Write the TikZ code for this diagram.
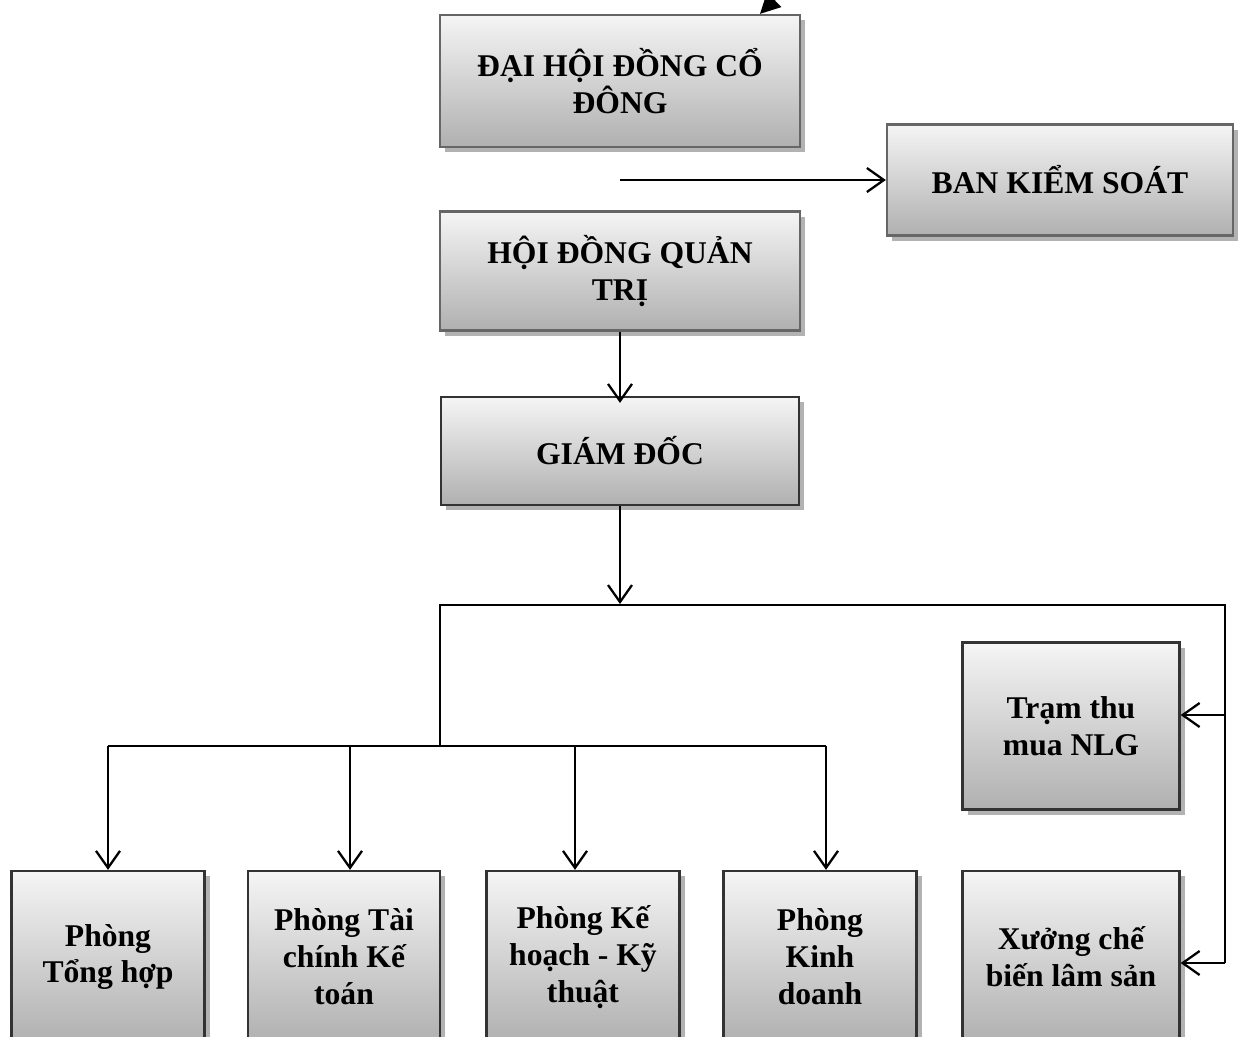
\documentclass[tikz,border=0pt]{standalone}
\usepackage{fontspec}
\setmainfont{Liberation Serif}
\usepackage{tikz}
\usetikzlibrary{positioning, arrows.meta, shadows}
\tikzset{orgbox/.style={draw=black!80, line width=1.3pt, top color=gray!8, bottom color=gray!62, drop shadow={shadow xshift=3pt, shadow yshift=-3pt, fill=gray!60, opacity=1}, align=center, inner sep=2pt, font=\fontsize{18}{21}\selectfont\bfseries}}
\tikzset{arr/.style={draw, line width=1.3pt, -{Straight Barb[length=3.4mm, width=4.8mm, line width=1.3pt]}}}
\tikzset{link/.style={draw, line width=1.3pt}}

\begin{document}
\begin{tikzpicture}[x=0.02cm, y=-0.02cm]
			\useasboundingbox (0,0) rectangle (1238,1036);
			% top level
			\node[orgbox, draw=black!60, minimum width=360*0.02cm, minimum height=132*0.02cm] (dhcd) at (620,81) {ĐẠI HỘI ĐỒNG CỔ\\ĐÔNG};
			\node[orgbox, draw=black!60, minimum width=346*0.02cm, minimum height=111*0.02cm] (bks) at (1060,180) {BAN KIỂM SOÁT};
			\node[orgbox, draw=black!60, minimum width=360*0.02cm, minimum height=119*0.02cm] (hdqt) at (620,271) {HỘI ĐỒNG QUẢN\\TRỊ};
			\node[orgbox, minimum width=358*0.02cm, minimum height=108*0.02cm] (gd) at (620,451) {GIÁM ĐỐC};
			% departments
			\node[orgbox, minimum width=193*0.02cm, minimum height=172*0.02cm] (pth) at (108,957) {Phòng\\Tổng hợp};
			\node[orgbox, minimum width=192*0.02cm, minimum height=172*0.02cm] (ptc) at (344,957) {Phòng Tài\\chính Kế\\toán};
			\node[orgbox, minimum width=193*0.02cm, minimum height=172*0.02cm] (pkh) at (583,957) {Phòng Kế\\hoạch - Kỹ\\thuật};
			\node[orgbox, minimum width=193*0.02cm, minimum height=172*0.02cm] (pkd) at (820,957) {Phòng\\Kinh\\doanh};
			\node[orgbox, minimum width=217*0.02cm, minimum height=167*0.02cm] (tram) at (1071,726) {Trạm thu\\mua NLG};
			\node[orgbox, minimum width=217*0.02cm, minimum height=172*0.02cm] (xuong) at (1071,957) {Xưởng chế\\biến lâm sản};
			% connector points
			\coordinate (topin) at (780,-6);
			\coordinate (bksin) at (620,180);
			\coordinate (gdout) at (620,604);
			\coordinate (lt) at (440,605);
			\coordinate (rt) at (1225,605);
			\coordinate (lb) at (440,746);
			\coordinate (bl) at (108,746);
			\coordinate (br) at (826,746);
			\coordinate (rtram) at (1225,715);
			\coordinate (rxuong) at (1225,963);
			\draw[line width=1.3pt, -{Triangle[length=4mm, width=4mm]}] (topin) -- ([xshift=140*0.02cm]dhcd.north);
			\draw[arr] (bksin) -- (bks.west);
			\draw[arr] (hdqt.south) -- ([yshift=-4pt]hdqt.south |- gd.north);
			\draw[arr] (gd.south) -- (gdout);
			\draw[link] (lb) -- (lt) -- (rt) -- (rxuong);
			\draw[link] (bl) -- (br);
			\foreach \p/\b in {108/pth, 350/ptc, 575/pkh, 826/pkd}
				\draw[arr] (\p,746) -- (\p,746 |- \b.north);
			\draw[arr] (rtram) -- (tram.east |- rtram);
			\draw[arr] (rxuong) -- (xuong.east |- rxuong);
		\end{tikzpicture}
\end{document}
